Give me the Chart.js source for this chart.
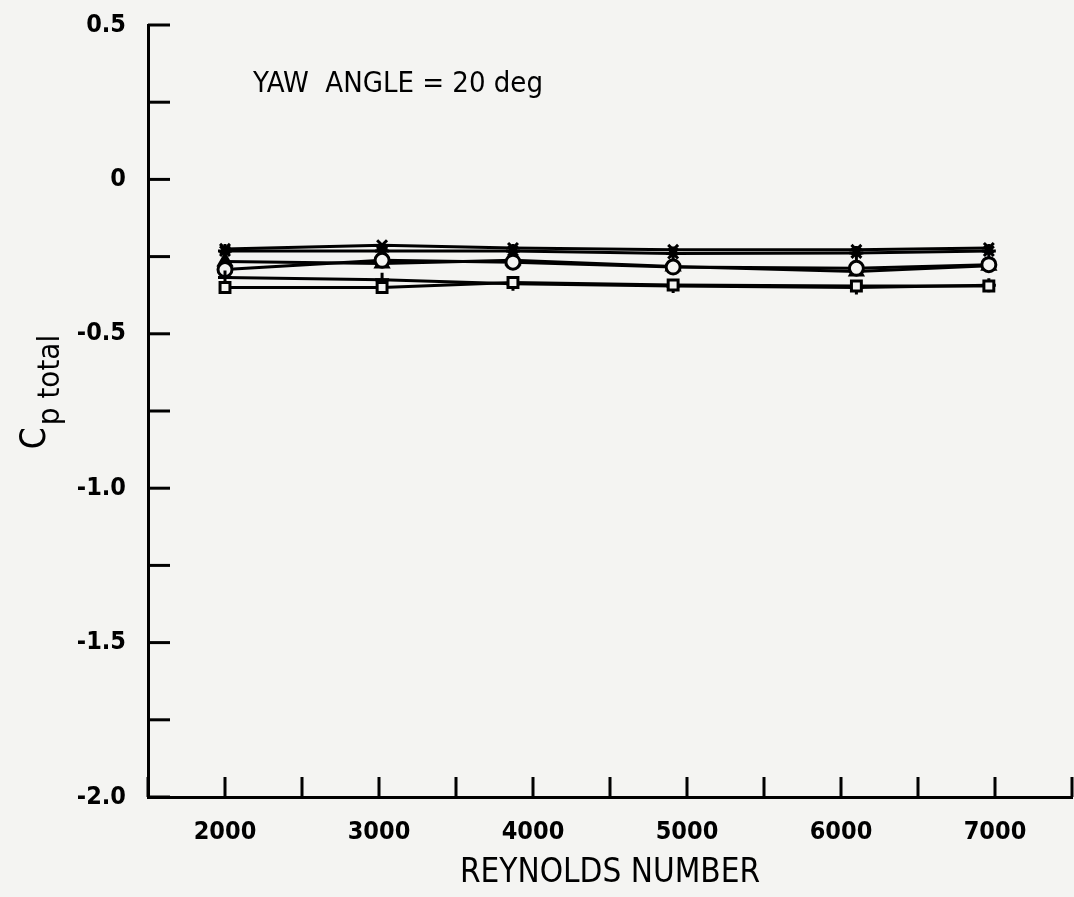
<!DOCTYPE html>
<html>
<head>
<meta charset="utf-8">
<script src="https://cdn.jsdelivr.net/npm/chart.js@4/dist/chart.umd.min.js"></script>
<style>
  html, body { margin: 0; padding: 0; background: #f4f4f2; overflow: hidden; }
  #wrap { width: 1074px; height: 897px; overflow: hidden; }
</style>
</head>
<body>
<div id="wrap"><canvas id="c" width="1100" height="897"></canvas></div>
<script>
// ---- data ----
const reynolds = [2000, 3020, 3870, 4910, 6100, 6960];
const cpCrossRot = [-0.225, -0.213, -0.222, -0.228, -0.228, -0.222];
const cpStar     = [-0.232, -0.232, -0.232, -0.240, -0.238, -0.232];
const cpTriangle = [-0.266, -0.272, -0.262, -0.282, -0.298, -0.280];
const cpCircle   = [-0.292, -0.262, -0.268, -0.284, -0.288, -0.276];
const cpRect     = [-0.350, -0.350, -0.334, -0.342, -0.345, -0.345];
const cpCross    = [-0.318, -0.325, -0.338, -0.345, -0.350, -0.343];
const yTickLabels = {"0.5": "0.5", "0": "0", "-0.5": "-0.5", "-1": "-1.0", "-1.5": "-1.5", "-2": "-2.0"};
const xTickLabels = [2000, 3000, 4000, 5000, 6000, 7000];

const FONT = "'Liberation Sans Narrow', 'DejaVu Sans Condensed', 'Liberation Sans', sans-serif";
const BG = '#f4f4f2';
const TARGET_RIGHT = 1072;

function mk(arr, style, fill) {
  return {
    data: reynolds.map((x, i) => ({x: x, y: arr[i]})),
    showLine: true,
    borderColor: '#000',
    borderWidth: 3,
    pointStyle: style,
    pointRadius: 7,
    pointBorderWidth: 3,
    pointBorderColor: '#000',
    pointBackgroundColor: fill,
    tension: 0
  };
}

const ticksPlugin = {
  id: 'inwardTicks',
  afterDraw(chart) {
    const ctx = chart.ctx;
    const xs = chart.scales.x, ys = chart.scales.y;
    ctx.save();
    ctx.strokeStyle = '#000';
    ctx.lineWidth = 3;
    ys.ticks.forEach(t => {
      const y = ys.getPixelForValue(t.value);
      ctx.beginPath(); ctx.moveTo(ys.right, y); ctx.lineTo(ys.right + 22, y); ctx.stroke();
    });
    xs.ticks.forEach(t => {
      const x = xs.getPixelForValue(t.value);
      ctx.beginPath(); ctx.moveTo(x, xs.top); ctx.lineTo(x, xs.top - 20); ctx.stroke();
    });
    // annotation
    ctx.fillStyle = '#000';
    ctx.font = "29px " + FONT;
    ctx.textAlign = 'left';
    ctx.textBaseline = 'middle';
    ctx.fillText('YAW  ANGLE = 20 deg', 253, 84);
    // y-axis title with subscript
    ctx.translate(40, 392);
    ctx.rotate(-Math.PI / 2);
    ctx.textAlign = 'left';
    ctx.textBaseline = 'middle';
    ctx.font = "35px " + FONT;
    const w1 = ctx.measureText('C').width;
    const sub = 'p total';
    ctx.font = "31px " + FONT;
    const w2 = ctx.measureText(sub).width;
    const start = -(w1 + w2 + 2) / 2;
    ctx.font = "35px " + FONT;
    ctx.fillText('C', start, -4);
    ctx.font = "31px " + FONT;
    ctx.fillText(sub, start + w1 + 2, 11);
    ctx.restore();
  }
};

const chart = new Chart(document.getElementById('c'), {
  type: 'scatter',
  data: {
    datasets: [
      mk(cpRect, 'rect', BG),
      mk(cpCross, 'cross', '#000'),
      mk(cpCircle, 'circle', BG),
      mk(cpTriangle, 'triangle', '#000'),
      mk(cpStar, 'star', '#000'),
      mk(cpCrossRot, 'crossRot', '#000')
    ]
  },
  options: {
    responsive: false,
    animation: false,
    layout: { padding: { top: 25, right: 1100 - TARGET_RIGHT, left: 0, bottom: 0 } },
    plugins: { legend: { display: false }, tooltip: { enabled: false } },
    scales: {
      x: {
        type: 'linear',
        min: 1500, max: 7500,
        afterFit(s) { s.height = 100; s.paddingRight = 0; s.paddingLeft = 0; },
        grid: { display: false, drawTicks: false },
        border: { display: true, color: '#000', width: 3 },
        ticks: {
          stepSize: 500,
          autoSkip: false,
          maxRotation: 0,
          padding: 20,
          color: '#000',
          font: { family: FONT, size: 25, weight: 'bold' },
          callback: v => xTickLabels.includes(v) ? String(v) : ''
        },
        title: {
          display: true,
          text: 'REYNOLDS NUMBER',
          color: '#000',
          font: { family: FONT, size: 33 },
          padding: { top: 0 }
        }
      },
      y: {
        type: 'linear',
        min: -2, max: 0.5,
        afterFit(s) { s.width = 148; s.paddingTop = 0; s.paddingBottom = 0; },
        grid: { display: false, drawTicks: false },
        border: { display: true, color: '#000', width: 3 },
        ticks: {
          stepSize: 0.25,
          autoSkip: false,
          padding: 22,
          color: '#000',
          font: { family: FONT, size: 25, weight: 'bold' },
          callback: v => {
            const k = String(Math.round(v * 100) / 100);
            return yTickLabels[k] !== undefined ? yTickLabels[k] : '';
          }
        }
      }
    }
  },
  plugins: [ticksPlugin]
});
// correct any residual offset of the plot area's right edge
const delta = TARGET_RIGHT - chart.chartArea.right;
if (Math.abs(delta) > 0.5) {
  chart.options.layout.padding.right = Math.max(0, chart.options.layout.padding.right - delta);
  chart.update();
}
</script>
</body>
</html>
